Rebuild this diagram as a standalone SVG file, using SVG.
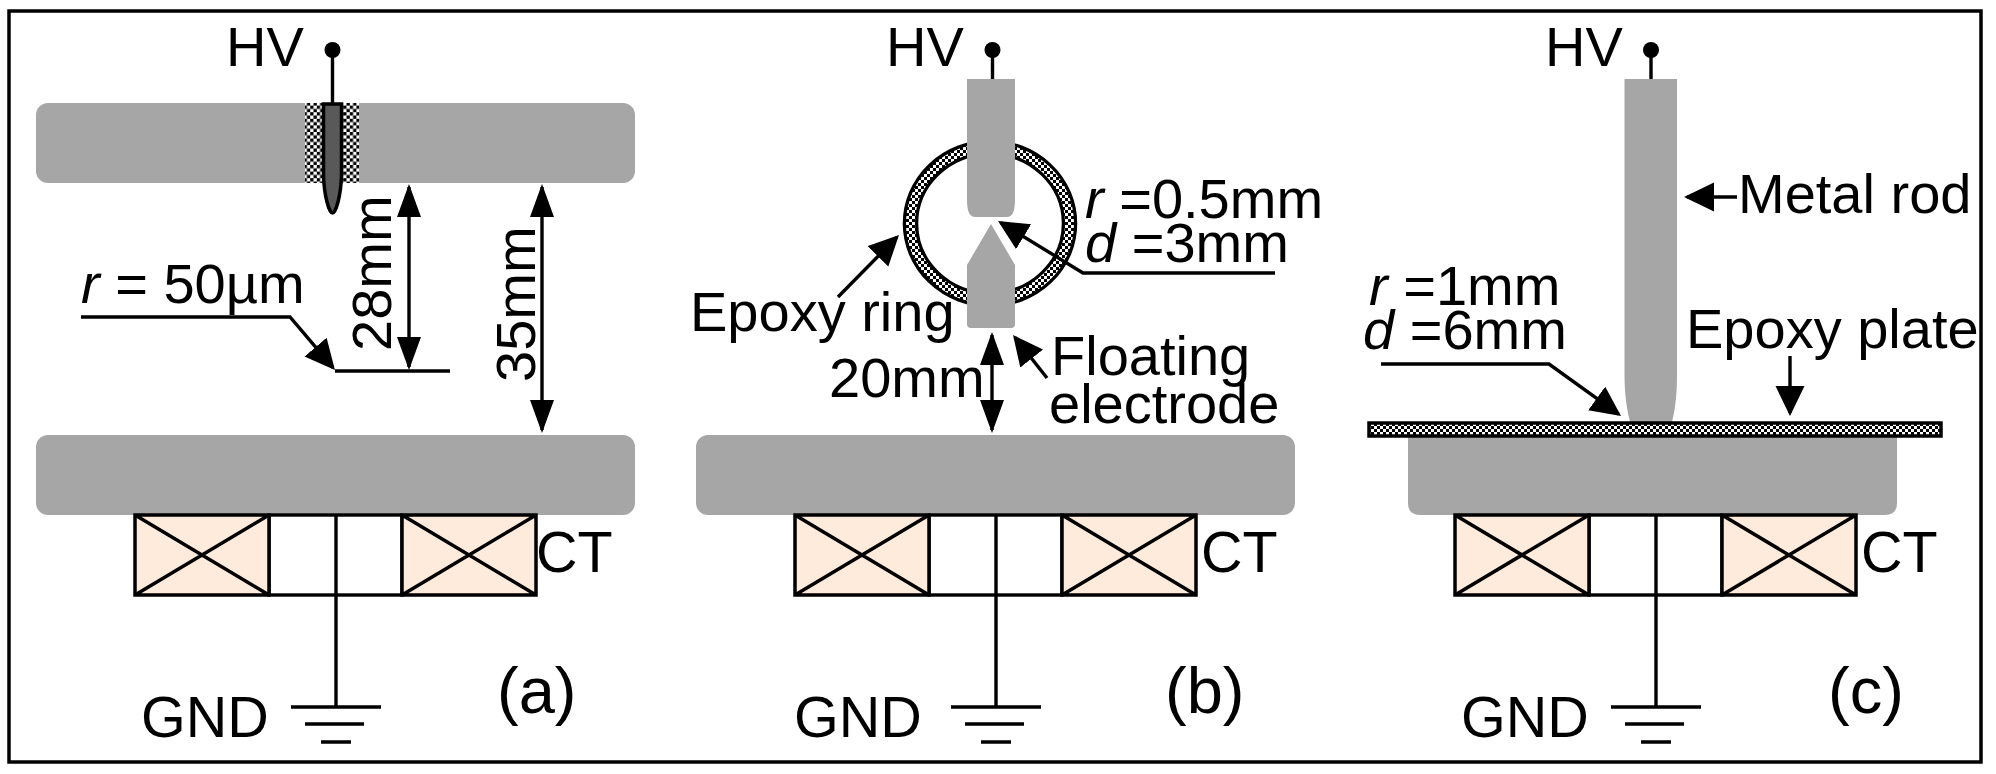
<svg xmlns="http://www.w3.org/2000/svg" width="1996" height="774" viewBox="0 0 1996 774">
<style>
text{font-family:"Liberation Sans",Arial,sans-serif;font-size:56px;fill:#000}
.i{font-style:italic}
.s{font-size:57.500px}
.p{font-size:65px}
.g{fill:#A6A6A6}
.l{fill:none;stroke:#000;stroke-width:3.400}
.a{fill:none;stroke:#000;stroke-width:3.400;marker-end:url(#aw)}
.d{fill:none;stroke:#000;stroke-width:3.400;marker-start:url(#ah2);marker-end:url(#ah)}
.c{fill:#FFEBDC;stroke:#000;stroke-width:3.500}
</style>
<defs>
<marker id="ah" markerUnits="userSpaceOnUse" markerWidth="36" markerHeight="26" refX="30" refY="12" orient="auto"><polygon points="0,0 33,12 0,24" fill="#000"/></marker>
<marker id="ah2" markerUnits="userSpaceOnUse" markerWidth="36" markerHeight="26" refX="30" refY="12" orient="auto-start-reverse"><polygon points="0,0 33,12 0,24" fill="#000"/></marker>
<marker id="aw" markerUnits="userSpaceOnUse" markerWidth="34" markerHeight="30" refX="27" refY="14.500" orient="auto"><polygon points="0,0 30,14.500 0,29" fill="#000"/></marker>
<pattern id="chk" width="6.6" height="6.6" patternUnits="userSpaceOnUse"><rect width="6.6" height="6.6" fill="#fff"/><rect width="3.3" height="3.3" fill="#000"/><rect x="3.3" y="3.3" width="3.3" height="3.3" fill="#000"/></pattern>
<pattern id="dot" width="6" height="6" patternUnits="userSpaceOnUse"><rect width="6" height="6" fill="#000"/><rect width="3" height="3" fill="#fff"/><rect x="3" y="3" width="3" height="3" fill="#fff"/></pattern>
</defs>
<rect id="frame" x="9" y="11" width="1972" height="751" fill="#fff" stroke="#000" stroke-width="3.500"/>
<g id="panel-a">
<g id="a-top-plate"><rect class="g" x="36" y="103" width="599" height="80" rx="12"/></g>
<g id="a-epoxy"><rect x="305" y="103" width="54" height="80" fill="url(#chk)"/></g>
<g id="a-needle"><path d="M323.500 104H341.500V175C341 195 336 213 332.500 213C329 213 324 195 323.500 175Z" fill="#595959" stroke="#000" stroke-width="3.500"/></g>
<g id="a-bottom-plate"><rect class="g" x="36" y="435" width="599" height="80" rx="12"/></g>
<g id="a-ct"><rect x="269" y="515" width="133" height="80" fill="#fff" stroke="#000" stroke-width="3.400"/><path class="c" d="M135 515H269V595H135ZM135 515L269 595M269 515L135 595"/><path class="c" d="M402 515H536V595H402ZM402 515L536 595M536 515L402 595"/></g>
<g id="a-hv"><circle cx="332.500" cy="50" r="8" fill="#000"/></g>
<g id="a-ground"><path class="l" d="M291 707H381M305 724H364M321 742H351"/></g>
</g>
<g id="panel-b">
<g id="b-ring"><ellipse cx="990" cy="223.500" rx="79.500" ry="76" fill="none" stroke="#000" stroke-width="15.500"/><ellipse cx="990" cy="223.500" rx="79.500" ry="76" fill="none" stroke="url(#dot)" stroke-width="9"/></g>
<g id="b-upper-electrode"><path class="g" d="M967 79H1015V200C1015 212 1012 217 1007 217H975C970 217 967 212 967 200Z"/></g>
<g id="b-floating-electrode"><path class="g" d="M991 224L1015 265V324Q1015 328 1011 328H971Q967 328 967 324V265Z"/></g>
<g id="b-bottom-plate"><rect class="g" x="696" y="435" width="599" height="80" rx="12"/></g>
<g id="b-ct"><rect x="929" y="515" width="133" height="80" fill="#fff" stroke="#000" stroke-width="3.400"/><path class="c" d="M795 515H929V595H795ZM795 515L929 595M929 515L795 595"/><path class="c" d="M1062 515H1196V595H1062ZM1062 515L1196 595M1196 515L1062 595"/></g>
<g id="b-hv"><circle cx="992.500" cy="50" r="8" fill="#000"/></g>
<g id="b-ground"><path class="l" d="M951 707H1041M965 724H1024M981 742H1011"/></g>
</g>
<g id="panel-c">
<g id="c-rod"><path class="g" d="M1624.500 79H1677V375C1677 395 1675 410 1672 422H1630C1627 410 1624.500 395 1624.500 375Z"/></g>
<g id="c-bottom-plate"><path class="g" d="M1408 437H1897V503Q1897 515 1885 515H1420Q1408 515 1408 503Z"/></g>
<g id="c-epoxy-plate"><rect x="1369" y="423" width="572" height="13" fill="url(#dot)" stroke="#000" stroke-width="3.500"/></g>
<g id="c-ct"><rect x="1589" y="515" width="133" height="80" fill="#fff" stroke="#000" stroke-width="3.400"/><path class="c" d="M1455 515H1589V595H1455ZM1455 515L1589 595M1589 515L1455 595"/><path class="c" d="M1722 515H1856V595H1722ZM1722 515L1856 595M1856 515L1722 595"/></g>
<g id="c-hv"><circle cx="1651" cy="50" r="8" fill="#000"/></g>
<g id="c-ground"><path class="l" d="M1611 707H1701M1625 724H1684M1641 742H1671"/></g>
</g>
<g id="connectors">
<path class="l" d="M332.500 50V103M336 515V707M992.500 50V79M996 515V707M1651 50V79M1656 515V707"/>
<path class="a" d="M81 317H290L333 367.700"/>
<path class="l" d="M335 371H450"/>
<path class="d" d="M409 187V367"/>
<path class="d" d="M542 187V430"/>
<path class="a" d="M1275 273H1083L1000.600 222.600"/>
<path class="a" d="M838 297L896.900 237.100"/>
<path class="d" d="M992 335V430"/>
<path class="a" d="M1047 378L1014.900 337.400"/>
<path class="a" d="M1737 197H1687"/>
<path class="a" d="M1381 364H1549L1618.600 414.200"/>
<path class="a" d="M1790 356V413"/>
</g>
<g id="labels">
<text x="226" y="66">HV</text>
<text x="81" y="303"><tspan class="i">r</tspan> = 50µm</text>
<text transform="translate(391,351) rotate(-90)">28mm</text>
<text transform="translate(535,382) rotate(-90)">35mm</text>
<text class="s" x="536" y="572">CT</text>
<text class="s" x="141" y="737">GND</text>
<text class="p" x="497" y="713">(a)</text>
<text x="886" y="66">HV</text>
<text x="1085" y="218"><tspan class="i">r</tspan> =0.5mm</text>
<text x="1085" y="262"><tspan class="i">d</tspan> =3mm</text>
<text x="690" y="331">Epoxy ring</text>
<text x="829" y="397">20mm</text>
<text x="1051" y="375">Floating</text>
<text x="1049" y="423">electrode</text>
<text class="s" x="1201" y="572">CT</text>
<text class="s" x="794" y="737">GND</text>
<text class="p" x="1165" y="713">(b)</text>
<text x="1545" y="66">HV</text>
<text x="1738" y="213">Metal rod</text>
<text x="1369" y="305"><tspan class="i">r</tspan> =1mm</text>
<text x="1363" y="349"><tspan class="i">d</tspan> =6mm</text>
<text x="1686" y="348">Epoxy plate</text>
<text class="s" x="1861" y="572">CT</text>
<text class="s" x="1461" y="737">GND</text>
<text class="p" x="1828" y="713">(c)</text>
</g>
</svg>
